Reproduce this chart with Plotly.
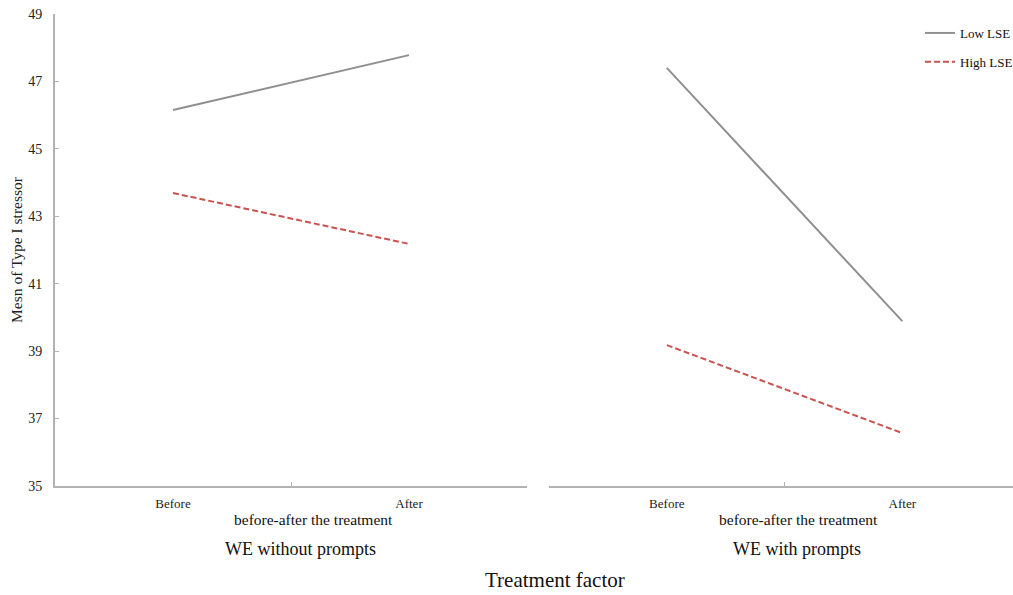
import plotly.graph_objects as go
from plotly.subplots import make_subplots

categories = ["Before", "After"]
panels = ["WE without prompts", "WE with prompts"]
low_lse_without = [46.15, 47.78]
high_lse_without = [43.69, 42.18]
low_lse_with = [47.40, 39.89]
high_lse_with = [39.18, 36.57]
y_ticks = [35, 37, 39, 41, 43, 45, 47, 49]

FONT = "Liberation Serif"
GRAY = "#8f8f8f"
RED = "#c9524f"
AXIS = "#b3b3b3"
DASH = "6px,3px"

fig = make_subplots(rows=1, cols=2, shared_yaxes=True, horizontal_spacing=0.023)

fig.add_trace(go.Scatter(x=categories, y=low_lse_without, mode="lines", name="Low LSE",
                         line=dict(color=GRAY, width=2), legendgroup="low"), 1, 1)
fig.add_trace(go.Scatter(x=categories, y=high_lse_without, mode="lines", name="High LSE",
                         line=dict(color=RED, width=2, dash=DASH), legendgroup="high"), 1, 1)
fig.add_trace(go.Scatter(x=categories, y=low_lse_with, mode="lines", name="Low LSE",
                         line=dict(color=GRAY, width=2), legendgroup="low", showlegend=False), 1, 2)
fig.add_trace(go.Scatter(x=categories, y=high_lse_with, mode="lines", name="High LSE",
                         line=dict(color=RED, width=2, dash=DASH), legendgroup="high", showlegend=False), 1, 2)

xcommon = dict(showgrid=False, zeroline=False, showline=True, linecolor=AXIS, linewidth=2,
               ticks="inside", tickson="boundaries", ticklen=4, tickcolor=AXIS, tickwidth=1,
               ticklabelstandoff=4,
               tickfont=dict(family=FONT, size=13, color="#222"))
fig.update_xaxes(**xcommon)
fig.update_xaxes(domain=[0, 0.4927], range=[-0.5, 1.5], row=1, col=1)
fig.update_xaxes(domain=[0.5157, 1], range=[-0.5, 1.47], row=1, col=2)

fig.update_yaxes(range=[35, 49], tickvals=y_ticks, showgrid=False, zeroline=False,
                 showline=True, linecolor=AXIS, linewidth=2, ticks="inside", ticklen=4,
                 tickcolor=AXIS, ticklabelstandoff=8,
                 tickfont=dict(family=FONT, size=14, color="#222"),
                 title=dict(text="Mesn of Type I stressor", font=dict(family=FONT, size=15.5, color="#222"), standoff=2),
                 row=1, col=1)
fig.update_yaxes(range=[35, 49], showgrid=False, zeroline=False, showline=False, ticks="",
                 showticklabels=False, row=1, col=2)

def py(pix):
    return (486 - pix) / 472.0

def px(pix):
    return (pix - 55) / 958.0

anns = [
    dict(text="before-after the treatment", x=px(313), y=py(519), size=15.5),
    dict(text="before-after the treatment", x=px(798), y=py(519), size=15.5),
    dict(text=panels[0], x=px(300), y=py(549), size=18),
    dict(text=panels[1], x=px(797), y=py(549), size=18),
    dict(text="Treatment factor", x=px(555), y=py(580), size=21),
]
for a in anns:
    fig.add_annotation(text=a["text"], x=a["x"], y=a["y"], xref="paper", yref="paper",
                       xanchor="center", yanchor="middle", showarrow=False,
                       font=dict(family=FONT, size=a["size"], color="#111"))

fig.update_layout(
    width=1013, height=595,
    margin=dict(l=55, r=0, t=14, b=109, autoexpand=False),
    paper_bgcolor="white", plot_bgcolor="white",
    legend=dict(x=px(920), y=py(18), xanchor="left", yanchor="top", bgcolor="rgba(0,0,0,0)",
                font=dict(family=FONT, size=13, color="#111"), tracegroupgap=9),
    showlegend=True,
)

fig.write_html("out.html", config={"displayModeBar": False},
               post_script="document.body.style.margin='0';document.body.style.overflow='hidden';")
